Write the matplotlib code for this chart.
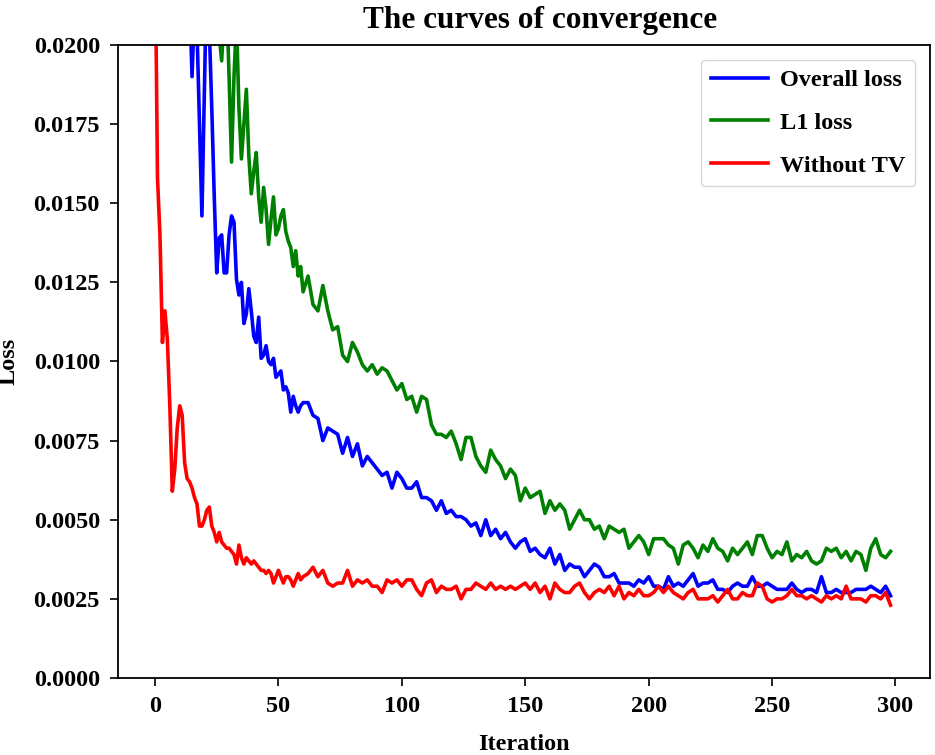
import matplotlib
matplotlib.use("Agg")
import matplotlib.pyplot as plt
import numpy as np

# iterations: every step for the first 60, then every second step
iters = list(range(0, 60)) + list(range(60, 300, 2))

# Overall loss
overall_head = [0.060, 0.052, 0.047, 0.043, 0.040, 0.037, 0.035, 0.033, 0.031, 0.029,
                0.028, 0.027, 0.025, 0.024, 0.0215, 0.0190, 0.0212, 0.0205, 0.0175, 0.0146,
                0.0185, 0.0225, 0.0205, 0.0180, 0.0152, 0.0128, 0.0139, 0.0140, 0.0128, 0.0128,
                0.0140, 0.0146, 0.0144, 0.0126, 0.0121, 0.0125, 0.0112, 0.0115, 0.0123, 0.0116,
                0.0108, 0.0106, 0.0114, 0.0101, 0.0102, 0.0105, 0.0100, 0.0099, 0.0101, 0.0095,
                0.0096, 0.0097, 0.0091, 0.0092, 0.0090, 0.0084, 0.0089, 0.0086, 0.0084, 0.0086]
overall_tail = [0.0087, 0.0087, 0.0083, 0.0082, 0.0075, 0.0079, 0.0078, 0.0077, 0.0071, 0.0076,
                0.0070, 0.0074, 0.0067, 0.0070, 0.0068, 0.0066, 0.0064, 0.0065, 0.0060, 0.0065,
                0.0063, 0.0060, 0.0060, 0.0062, 0.0057, 0.0057, 0.0056, 0.0053, 0.0056, 0.0052,
                0.0053, 0.0051, 0.0051, 0.0050, 0.0048, 0.0049, 0.0045, 0.0050, 0.0045, 0.0047,
                0.0044, 0.0046, 0.0043, 0.0041, 0.0043, 0.0044, 0.0040, 0.0041, 0.0039, 0.0038,
                0.0041, 0.0036, 0.0039, 0.0034, 0.0036, 0.0035, 0.0035, 0.0032, 0.0034, 0.0036,
                0.0035, 0.0032, 0.0032, 0.0033, 0.0030, 0.0030, 0.0030, 0.0029, 0.0031, 0.0030,
                0.0032, 0.0029, 0.0029, 0.0028, 0.0032, 0.0029, 0.0030, 0.0029, 0.0031, 0.0033,
                0.0029, 0.0030, 0.0030, 0.0031, 0.0028, 0.0028, 0.0027, 0.0029, 0.0030, 0.0029,
                0.0029, 0.0032, 0.0029, 0.0029, 0.0030, 0.0029, 0.0028, 0.0028, 0.0028, 0.0030,
                0.0028, 0.0027, 0.0028, 0.0028, 0.0027, 0.0032, 0.0027, 0.0027, 0.0028, 0.0027,
                0.0027, 0.0027, 0.0028, 0.0028, 0.0028, 0.0029, 0.0028, 0.0027, 0.0029, 0.0026]

# L1 loss
l1_head = [0.080, 0.070, 0.063, 0.057, 0.053, 0.049, 0.046, 0.043, 0.041, 0.039,
           0.037, 0.035, 0.034, 0.033, 0.032, 0.031, 0.030, 0.029, 0.028, 0.027,
           0.026, 0.025, 0.024, 0.023, 0.022, 0.0215, 0.0203, 0.0195, 0.0210, 0.0215,
           0.0190, 0.0163, 0.0190, 0.0208, 0.0180, 0.0164, 0.0175, 0.0186, 0.0165, 0.0153,
           0.0160, 0.0166, 0.0152, 0.0144, 0.0155, 0.0148, 0.0137, 0.0145, 0.0152, 0.0140,
           0.0142, 0.0146, 0.0148, 0.0141, 0.0138, 0.0136, 0.0130, 0.0135, 0.0127, 0.0130]
l1_tail = [0.0122, 0.0127, 0.0118, 0.0116, 0.0124, 0.0116, 0.0110, 0.0111, 0.0102, 0.0100,
           0.0106, 0.0103, 0.0099, 0.0097, 0.0099, 0.0096, 0.0098, 0.0097, 0.0094, 0.0091,
           0.0093, 0.0088, 0.0089, 0.0084, 0.0089, 0.0088, 0.0080, 0.0077, 0.0077, 0.0076,
           0.0078, 0.0074, 0.0069, 0.0076, 0.0076, 0.0070, 0.0067, 0.0065, 0.0072, 0.0069,
           0.0067, 0.0063, 0.0066, 0.0064, 0.0056, 0.0060, 0.0057, 0.0058, 0.0059, 0.0052,
           0.0056, 0.0053, 0.0055, 0.0053, 0.0047, 0.0050, 0.0053, 0.0050, 0.0050, 0.0047,
           0.0048, 0.0044, 0.0048, 0.0047, 0.0046, 0.0047, 0.0041, 0.0043, 0.0045, 0.0043,
           0.0039, 0.0044, 0.0044, 0.0044, 0.0042, 0.0041, 0.0036, 0.0042, 0.0043, 0.0041,
           0.0038, 0.0042, 0.0040, 0.0044, 0.0041, 0.0040, 0.0037, 0.0041, 0.0039, 0.0041,
           0.0043, 0.0039, 0.0045, 0.0045, 0.0041, 0.0038, 0.0040, 0.0039, 0.0043, 0.0037,
           0.0039, 0.0038, 0.0040, 0.0037, 0.0036, 0.0037, 0.0041, 0.0040, 0.0041, 0.0038,
           0.0040, 0.0037, 0.0040, 0.0039, 0.0034, 0.0041, 0.0044, 0.0039, 0.0038, 0.0040]

# Without TV
notv_head = [0.0235, 0.0158, 0.0140, 0.0106, 0.0116, 0.0107, 0.0086, 0.0059, 0.0066, 0.0079,
             0.0086, 0.0083, 0.0068, 0.0063, 0.0062, 0.0060, 0.0057, 0.0055, 0.0048, 0.0048,
             0.0050, 0.0053, 0.0054, 0.0048, 0.0046, 0.0043, 0.0046, 0.0043, 0.0042, 0.0041,
             0.0041, 0.0040, 0.0039, 0.0036, 0.0042, 0.0038, 0.0036, 0.0038, 0.0037, 0.0036,
             0.0037, 0.0036, 0.0035, 0.0034, 0.0034, 0.0033, 0.0034, 0.0033, 0.0030, 0.0032,
             0.0034, 0.0032, 0.0030, 0.0032, 0.0032, 0.0031, 0.0029, 0.0031, 0.0033, 0.0031]
notv_tail = [0.0032, 0.0033, 0.0035, 0.0032, 0.0034, 0.0030, 0.0029, 0.0030, 0.0030, 0.0034,
             0.0029, 0.0031, 0.0030, 0.0031, 0.0029, 0.0029, 0.0027, 0.0031, 0.0030, 0.0031,
             0.0029, 0.0031, 0.0031, 0.0028, 0.0026, 0.0030, 0.0031, 0.0027, 0.0029, 0.0028,
             0.0028, 0.0029, 0.0025, 0.0028, 0.0028, 0.0030, 0.0029, 0.0028, 0.0030, 0.0028,
             0.0029, 0.0028, 0.0029, 0.0028, 0.0029, 0.0030, 0.0028, 0.0030, 0.0027, 0.0029,
             0.0025, 0.0030, 0.0028, 0.0027, 0.0027, 0.0029, 0.0030, 0.0027, 0.0025, 0.0027,
             0.0028, 0.0027, 0.0029, 0.0026, 0.0029, 0.0025, 0.0027, 0.0026, 0.0028, 0.0026,
             0.0026, 0.0027, 0.0029, 0.0027, 0.0029, 0.0027, 0.0026, 0.0025, 0.0027, 0.0028,
             0.0025, 0.0025, 0.0025, 0.0026, 0.0024, 0.0026, 0.0028, 0.0025, 0.0025, 0.0027,
             0.0026, 0.0026, 0.0030, 0.0029, 0.0025, 0.0024, 0.0025, 0.0025, 0.0026, 0.0028,
             0.0026, 0.0026, 0.0025, 0.0026, 0.0025, 0.0024, 0.0026, 0.0025, 0.0026, 0.0025,
             0.0029, 0.0025, 0.0025, 0.0025, 0.0024, 0.0026, 0.0026, 0.0025, 0.0027, 0.0023]

overall = overall_head + overall_tail
l1 = l1_head + l1_tail
notv = notv_head + notv_tail

plt.rcParams["font.family"] = ["Liberation Serif", "DejaVu Serif"]
plt.rcParams["font.weight"] = "bold"

fig = plt.figure(figsize=(9.35, 7.55), dpi=100)
ax = fig.add_axes([0.1262, 0.1020, 0.8685, 0.8384])

ax.plot(iters, overall, color="blue", lw=2.6, label="Overall loss")
ax.plot(iters, l1, color="green", lw=2.6, label="L1 loss")
ax.plot(iters, notv, color="red", lw=2.6, label="Without TV")

ax.set_xlim(-15, 314)
ax.set_ylim(0, 0.02)
ax.set_yticks(np.arange(0, 0.02001, 0.0025))
ax.yaxis.set_major_formatter(matplotlib.ticker.FormatStrFormatter("%.4f"))
ax.tick_params(labelsize=17.5, length=6, width=1.2, pad=7)
for lab in ax.get_xticklabels() + ax.get_yticklabels():
    lab.set_fontweight("bold")
for sp in ax.spines.values():
    sp.set_linewidth(1.3)

ax.set_title("The curves of convergence", fontsize=22.5, fontweight="bold", pad=12.5, x=0.52)
ax.set_xlabel("Iteration", fontsize=17.5, fontweight="bold", labelpad=12)
ax.set_ylabel("Loss", fontsize=17.5, fontweight="bold", labelpad=10)
ax.legend(loc="upper right", handlelength=2.35, handletextpad=0.5, labelspacing=0.85,
          borderpad=0.4, borderaxespad=0.6, prop={"weight": "bold", "size": 17.5})

fig.savefig("out.png", dpi=100)
